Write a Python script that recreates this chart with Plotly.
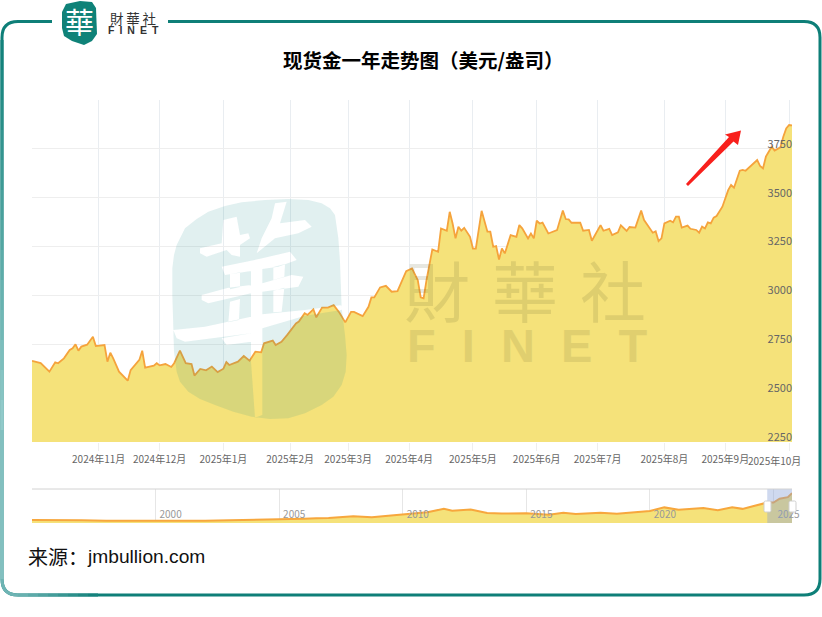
import plotly.graph_objects as go

W, H = 822, 617
CJK = "Noto Sans CJK SC"

# Main chart: trading-day number and spot gold price (USD/oz)
days = [0,3,6,8,9,11,13,14,15,16,17,19,21,22,25,26,27,28,30,33,34,37,38,39,42,43,44,46,48,49,51,53,55,56,58,60,62,64,66,67,68,71,73,75,77,79,80,83,84,86,88,91,92,94,95,97,98,99,
        100,102,104,106,108,110,111,114,116,117,118,120,122,124,126,129,131,133,134,135,136,138,140,141,143,144,145,146,147,148,149,151,152,153,155,157,158,159,160,161,162,163,165,167,168,169,171,172,173,174,175,176,178,181,182,
        183,184,185,186,189,190,192,193,196,197,199,200,202,203,205,206,208,210,211,214,215,216,217,218,220,221,222,223,224,226,227,229,230,231,232,233,234,235,236,238,240,241,242,244,245,246,248,250,251,252,253,255,256,258,259,260,261,262]
prices = [2665,2654,2610,2658,2653,2678,2721,2729,2750,2717,2738,2748,2789,2741,2746,2661,2707,2678,2610,2564,2618,2670,2717,2630,2641,2653,2642,2649,2634,2653,2717,2653,2649,2590,2624,2617,2636,2608,2625,2659,2644,2661,2690,2666,2712,2709,2755,2769,2746,2763,2798,2857,2866,2909,2900,2929,2888,2912,
          2938,2938,2950,2911,2862,2916,2916,2894,2942,2990,2990,3041,3049,3019,3022,3124,3138,3078,2990,2985,3078,3235,3223,3343,3331,3428,3368,3292,3351,3331,3346,3300,3240,3240,3433,3326,3326,3249,3252,3184,3240,3215,3309,3300,3360,3343,3292,3317,3292,3382,3368,3373,3317,3334,3389,
          3434,3391,3389,3372,3372,3331,3335,3280,3360,3331,3341,3309,3323,3359,3330,3350,3347,3434,3386,3321,3328,3278,3292,3369,3382,3374,3403,3403,3347,3357,3341,3335,3321,3352,3343,3374,3369,3398,3406,3454,3539,3565,3551,3638,3642,3638,3667,3693,3662,3650,3710,3761,3741,3758,3812,3855,3872,3870]
month_days = [23,44,66,89,109,130,152,174,195,218,239,261]
month_labels = ["2024年11月","2024年12月","2025年1月","2025年2月","2025年3月","2025年4月","2025年5月","2025年6月","2025年7月","2025年8月","2025年9月",""]
last_month_label = "2025年10月"
price_ticks = [2250,2500,2750,3000,3250,3500,3750,4000]
price_tick_labels = ["2250","2500","2750","3000","3250","3500","3750",""]

# Overview: full history
hist_dates = ["1995-01-01","1996-01-01","1997-01-01","1998-01-01","1999-01-01","2000-01-01","2001-01-01","2002-01-01","2003-01-01","2004-01-01","2005-01-01","2006-01-01","2006-07-01","2007-01-01","2008-01-01","2008-10-01","2009-06-01","2010-01-01","2010-07-01","2011-01-01","2011-09-01","2012-01-01","2012-10-01","2013-06-01","2014-01-01","2015-01-01","2015-12-01","2016-07-01","2017-01-01","2018-01-01","2018-09-01","2019-06-01","2019-09-01","2020-01-01","2020-08-01","2021-03-01","2022-03-01","2022-10-01","2023-05-01","2023-10-01","2024-03-01","2024-10-01","2025-01-01","2025-04-01","2025-08-01","2025-10-01"]
hist_prices = [385,395,360,295,285,285,265,300,350,410,430,560,630,640,880,760,950,1120,1210,1380,1850,1600,1750,1300,1230,1260,1070,1340,1170,1320,1200,1400,1520,1560,2020,1720,1950,1640,2030,1830,2160,2650,2640,3150,3350,3870]
hist_years = ["2000-01-01","2005-01-01","2010-01-01","2015-01-01","2020-01-01","2025-01-01"]
hist_year_labels = ["2000","2005","2010","2015","2020","2025"]

def X(px): return px / W
def Y(py): return 1 - py / H

fig = go.Figure()
fig.add_trace(go.Scatter(x=days, y=prices, mode="lines", line=dict(color="#f5a33c", width=1.8),
                         fill="tozeroy", fillcolor="#f5e27a", xaxis="x", yaxis="y", hoverinfo="skip"))
fig.add_trace(go.Scatter(x=hist_dates, y=hist_prices, mode="lines", line=dict(color="#f7a73d", width=2),
                         fill="tozeroy", fillcolor="#f5e27a", xaxis="x2", yaxis="y2", hoverinfo="skip"))

def poly(pts, cw=True):
    area = sum(pts[i][0]*pts[(i+1)%len(pts)][1]-pts[(i+1)%len(pts)][0]*pts[i][1] for i in range(len(pts)))
    if (area > 0) != cw:
        pts = pts[::-1]
    return "M" + " L".join(f"{x/W:.5f},{1-y/H:.5f}" for x, y in pts) + " Z"

def rounded(x0, y0, x1, y1, r):
    return (f"M{X(x0+r)},{Y(y0)} L{X(x1-r)},{Y(y0)} Q{X(x1)},{Y(y0)} {X(x1)},{Y(y0+r)} "
            f"L{X(x1)},{Y(y1-r)} Q{X(x1)},{Y(y1)} {X(x1-r)},{Y(y1)} L{X(x0+r)},{Y(y1)} "
            f"Q{X(x0)},{Y(y1)} {X(x0)},{Y(y1-r)} L{X(x0)},{Y(y0+r)} Q{X(x0)},{Y(y0)} {X(x0+r)},{Y(y0)} Z")

def z7(pts):
    return [(165+a/3, 195+b/3) for a, b in pts]

blob = [(60,100),(95,72),(130,50),(180,33),(230,22),(300,15),(370,12),(430,15),(470,25),(495,40),(510,60),(520,130),(525,200),(530,340),(540,420),(545,480),(542,530),(530,570),(505,605),(470,630),(420,655),(370,670),(315,672),(260,665),(205,650),(150,630),(105,612),(70,590),(45,560),(35,530),(27,470),(25,400),(22,300),(22,220),(27,180),(35,150)]
holes = [
 [(105,160),(170,145),(175,75),(215,65),(225,120),(250,115),(255,130),(225,150),(225,185),(200,180),(185,165),(125,185),(105,175)],
 [(330,25),(365,20),(345,85),(420,75),(440,95),(400,115),(330,130),(275,175),(290,130),(320,70)],
 [(258,197),(292,190),(292,660),(270,668),(258,500)],
 [(170,215),(258,197),(258,228),(180,240)],
 [(292,190),(375,170),(395,195),(340,215),(292,222)],
 [(25,405),(120,395),(258,365),(258,415),(60,440),(35,430)],
 [(292,358),(420,345),(530,330),(530,345),(420,362),(292,400)],
 [(110,300),(190,278),(258,270),(258,295),(130,325),(110,315)],
 [(292,265),(380,240),(415,245),(400,275),(292,290)],
 [(195,238),(225,232),(225,276),(195,283)],
 [(195,320),(225,312),(222,375),(190,382)],
 [(325,216),(360,207),(358,245),(325,255)],
 [(325,287),(358,278),(350,350),(325,352)],
 [(170,430),(258,415),(258,440),(185,450)],
]
wm_path = poly(z7(blob), True) + " " + " ".join(poly(z7(h), False) for h in holes)

def mix(a, b, t):
    return "rgb(%d,%d,%d)" % tuple(round(p + (q - p) * t) for p, q in zip(a, b))

DARK, PALE, CORNER = (14, 127, 120), (150, 205, 205), (110, 180, 180)
frame_fade = []
for i in range(13):
    y0, y1 = 40 + i * 30, 70 + i * 30
    frame_fade.append(dict(type="line", xref="paper", yref="paper", x0=X(2), x1=X(2), y0=Y(y0), y1=Y(y1),
                           line=dict(color=mix(DARK, PALE, (i + .5) / 13), width=3), layer="above"))
frame_fade.append(dict(type="line", xref="paper", yref="paper", x0=X(2), x1=X(2), y0=Y(430), y1=Y(579),
                       line=dict(color=mix(PALE, CORNER, .5), width=3), layer="above"))
frame_fade.append(dict(type="path", xref="paper", yref="paper",
                       path=f"M{X(2)},{Y(579)} Q{X(2)},{Y(595)} {X(18)},{Y(595)}",
                       line=dict(color=mix(CORNER, CORNER, 0), width=3), layer="above"))
for i in range(8):
    x0, x1 = 18 + i * 10, 28 + i * 10
    frame_fade.append(dict(type="line", xref="paper", yref="paper", x0=X(x0), x1=X(x1), y0=Y(595), y1=Y(595),
                           line=dict(color=mix(CORNER, DARK, (i + .5) / 8), width=3), layer="above"))

shapes = [
    dict(type="path", xref="paper", yref="paper", path=wm_path, fillcolor="#12868a", opacity=0.125, line=dict(width=0), layer="above"),
    dict(type="path", xref="paper", yref="paper", path=rounded(2, 21.5, 820, 595, 16), fillcolor="rgba(0,0,0,0)", line=dict(color="#0e7f78", width=3), layer="above"),
    *frame_fade,
    dict(type="rect", xref="paper", yref="paper", x0=X(52), x1=X(168), y0=Y(15), y1=Y(28), fillcolor="white", line=dict(width=0), layer="above"),
    dict(type="path", xref="paper", yref="paper",
         path=poly([(66,4),(80,1),(92,2),(96,8),(97,34),(92,41),(84,45),(72,41),(64,36),(62,28),(62,12)]),
         fillcolor="#0f8278", line=dict(width=0), layer="above"),
    dict(type="path", xref="paper", yref="paper",
         path=poly([(686,184),(729,137),(725,134.5),(741,130.5),(738,145),(733.5,141.5),(688,186)]),
         fillcolor="#f8201c", line=dict(width=0), layer="above"),
    dict(type="rect", xref="x2", yref="paper", x0="2024-09-30", x1="2025-10-01", y0=Y(523), y1=Y(489),
         fillcolor="rgba(135,160,215,0.40)", line=dict(width=0), layer="above"),
    dict(type="path", xref="paper", yref="paper", path=rounded(764, 501, 771, 512, 1.5), fillcolor="white", line=dict(color="#cfcfcf", width=1), layer="above"),
    dict(type="path", xref="paper", yref="paper", path=rounded(789, 501, 796, 512, 1.5), fillcolor="white", line=dict(color="#cfcfcf", width=1), layer="above"),
]

def note(text, px, py, size, color="#000", anchor="center", family=CJK, opacity=1.0):
    return dict(text=text, x=X(px), y=Y(py), xref="paper", yref="paper", xanchor=anchor, yanchor="middle",
                showarrow=False, opacity=opacity, font=dict(size=size, color=color, family=family))

NB = "\u00a0"
TH = "\u2009"
EM3 = "\u2004"
annotations = [
    note("<b>现货金一年走势图（美元/盎司）</b>", 423, 60, 19.5),
    note("来源：", 26, 556, 20, "#111", "left"),
    note("jmbullion.com", 84.5, 556, 19.2, "#111", "left", "Liberation Sans"),
    note(f"財{EM3}華{EM3}社", 525, 288, 66, "#5c5a2a", family="Noto Sans CJK TC", opacity=0.14),
    note(f"<b>F{NB*2}I{NB*2}N{NB*2}E{NB*2}T</b>", 527, 345, 47, "#5c5a2a", family="Liberation Sans", opacity=0.13),
    note("華", 79, 21, 29, "white", family="Noto Sans CJK TC"),
    note(f"財{TH}華{TH}社", 133, 18, 13.5, "#333", family="Noto Sans CJK TC"),
    note(f"<b>F{NB}{TH}I{NB}{TH}N{NB}{TH}E{NB}{TH}T</b>", 133, 30, 10.5, "#333", family="Liberation Sans"),
    note(last_month_label, 774.5, 460.5, 10, "#666"),
]

fig.update_layout(
    width=W, height=H, margin=dict(l=0, r=0, t=0, b=0, autoexpand=False), autosize=False,
    paper_bgcolor="white", plot_bgcolor="white", showlegend=False,
    shapes=shapes, annotations=annotations,
    xaxis=dict(domain=[X(32), X(792)], range=[0, 262], tickmode="array", tickvals=month_days, ticktext=month_labels,
               showgrid=True, gridcolor="#e9edf1", gridwidth=1, zeroline=False, showline=False,
               ticks="outside", ticklen=8, tickcolor="#eeeeee", tickfont=dict(size=10, color="#666", family=CJK),
               anchor="y"),
    yaxis=dict(domain=[Y(442), Y(100)], range=[2250, 4000], side="right", tickmode="array", tickvals=price_ticks,
               ticktext=price_tick_labels, ticklabelposition="inside", ticklabelshift=-5, ticklabelstandoff=-3, ticklabeloverflow="allow", showgrid=True, gridcolor="#eeeeee",
               zeroline=False, showline=False, ticks="", tickfont=dict(size=11, color="#666", family=CJK), anchor="x"),
    xaxis2=dict(domain=[X(32), X(792)], type="date", range=["1995-01-01", "2025-10-01"], tickmode="array",
                tickvals=hist_years, ticktext=hist_year_labels, ticklabelposition="inside", ticklabelshift=15, ticklabeloverflow="allow",
                showgrid=True, gridcolor="#e6e6e6", zeroline=False, showline=False, ticks="",
                tickfont=dict(size=10, color="#999", family=CJK), anchor="y2"),
    yaxis2=dict(domain=[Y(523), Y(489)], range=[0, 4400], showgrid=False, zeroline=False,
                showticklabels=False, ticks="", showline=False, anchor="x2", mirror=False),
)
fig.add_shape(type="line", xref="paper", yref="paper", x0=X(32), x1=X(792), y0=Y(489), y1=Y(489),
              line=dict(color="#d2d2d2", width=1))
fig.write_html("out.html", config=dict(displayModeBar=False),
               post_script="document.body.style.margin='0';")
